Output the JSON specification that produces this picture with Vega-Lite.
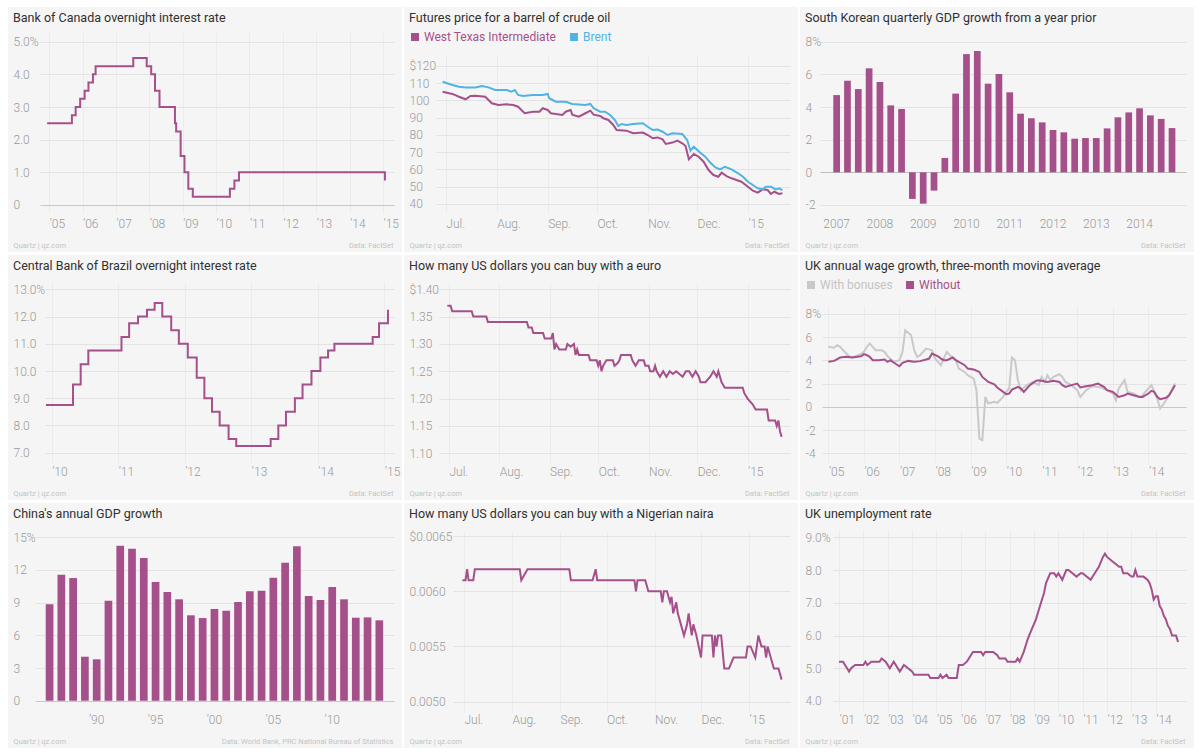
{
"$schema": "https://vega.github.io/schema/vega-lite/v6.json",
"padding": {"left": 8, "top": 7, "right": 0, "bottom": 0},
"background": "white",
"spacing": 3,
"resolve": {"scale": {"color": "independent"}, "legend": {"color": "independent"}},
"config": {
  "view": {"fill": "#f5f5f5", "stroke": null},
  "font": "Roboto",
  "title": {"anchor": "start", "frame": "group", "font": "Roboto", "fontSize": 12.5, "fontWeight": 400, "color": "#303030", "offset": 0, "dx": 5, "dy": 21, "baseline": "alphabetic"},
  "axis": {"domain": false, "grid": false, "ticks": false, "labelFont": "Roboto", "labelFontSize": 12, "labelFontWeight": 300, "labelColor": "#999999", "labelPadding": 0, "labelFlush": false, "labelOverlap": false, "titleFont": "Roboto", "titleFontSize": 7.5, "titleFontWeight": 400, "titleColor": "#c4c4c4", "zindex": 0, "tickWidth": 1, "minExtent": 0, "maxExtent": 0},
  "line": {"strokeWidth": 2}
},
"vconcat": [
{"hconcat": [
{
 "width": 394, "height": 245,
 "title": {"text": "Bank of Canada overnight interest rate"},
 "data": {"values": [
  {"d":"2004-12-10","v":2.5},{"d":"2005-09-07","v":2.75},{"d":"2005-10-18","v":3.0},{"d":"2005-12-06","v":3.25},
  {"d":"2006-01-24","v":3.5},{"d":"2006-03-07","v":3.75},{"d":"2006-04-25","v":4.0},{"d":"2006-05-24","v":4.25},
  {"d":"2007-07-10","v":4.5},{"d":"2007-12-04","v":4.25},{"d":"2008-01-22","v":4.0},{"d":"2008-03-04","v":3.5},
  {"d":"2008-04-22","v":3.0},{"d":"2008-10-08","v":2.5},{"d":"2008-10-21","v":2.25},{"d":"2008-12-09","v":1.5},
  {"d":"2009-01-20","v":1.0},{"d":"2009-03-03","v":0.5},{"d":"2009-04-21","v":0.25},{"d":"2010-06-01","v":0.5},
  {"d":"2010-07-20","v":0.75},{"d":"2010-09-08","v":1.0},{"d":"2015-01-21","v":0.75}
 ]},
 "layer": [
  {"mark": {"type": "line", "opacity": 0},
   "encoding": {
    "x": {"field": "d", "type": "temporal", "scale": {"type": "utc", "nice": false, "domain": [{"year":2003,"month":10,"date":9,"utc":true},{"year":2015,"month":7,"date":27,"utc":true}]},
          "axis": {"orient": "top", "offset": -25, "ticks": true, "tickSize": -181, "tickColor": "#ebebeb", "labels": false, "title": null,
                   "values": [{"year":2005,"utc":true},{"year":2006,"utc":true},{"year":2007,"utc":true},{"year":2008,"utc":true},{"year":2009,"utc":true},{"year":2010,"utc":true},{"year":2011,"utc":true},{"year":2012,"utc":true},{"year":2013,"utc":true},{"year":2014,"utc":true},{"year":2015,"utc":true}]}},
    "y": {"field": "v", "type": "quantitative", "scale": {"domain": [-1.439, 6.062], "nice": false, "zero": false},
          "axis": {"orient": "right", "offset": -8, "ticks": true, "tickSize": -354, "tickColor": {"condition": {"test": "datum.value == 0", "value": "#c8c8c8"}, "value": "#e3e3e3"}, "labels": false, "title": null, "values": [0,1,2,3,4,5]}}
   }},
  {"mark": {"type": "line", "interpolate": "step-after", "color": "#a5508a"},
   "encoding": {
    "x": {"field": "d", "type": "temporal",
          "axis": {"orient": "bottom", "offset": -34, "labelAlign": "left", "labelExpr": "'’' + utcFormat(datum.value, '%y')",
                   "values": [{"year":2005,"utc":true},{"year":2006,"utc":true},{"year":2007,"utc":true},{"year":2008,"utc":true},{"year":2009,"utc":true},{"year":2010,"utc":true},{"year":2011,"utc":true},{"year":2012,"utc":true},{"year":2013,"utc":true},{"year":2014,"utc":true},{"year":2015,"utc":true}],
                   "title": "Quartz | qz.com", "titleX": 5, "titleY": 29, "titleAlign": "left", "titleBaseline": "alphabetic"}},
    "y": {"field": "v", "type": "quantitative",
          "axis": {"orient": "left", "offset": -5, "values": [0,1,2,3,4,5], "labelAlign": "left", "labelExpr": "datum.value == 5 ? '5.0%' : datum.value == 0 ? '0' : format(datum.value, '.1f')",
                   "title": "Data: FactSet", "titleAngle": 0, "titleX": 380, "titleY": 240, "titleAlign": "right", "titleBaseline": "alphabetic"}}
   }}
 ],
 "resolve": {"axis": {"x": "independent", "y": "independent"}}
},
{
 "width": 394, "height": 245,
 "title": {"text": "Futures price for a barrel of crude oil"},
 "data": {"values": [
  {"d":"2014-06-29","s":"West Texas Intermediate","v":105.1},{"d":"2014-07-03","s":"West Texas Intermediate","v":104.2},{"d":"2014-07-05","s":"West Texas Intermediate","v":103.8},{"d":"2014-07-09","s":"West Texas Intermediate","v":102.2},
  {"d":"2014-07-13","s":"West Texas Intermediate","v":100.7},{"d":"2014-07-16","s":"West Texas Intermediate","v":102.6},{"d":"2014-07-19","s":"West Texas Intermediate","v":102.8},{"d":"2014-07-25","s":"West Texas Intermediate","v":102.2},
  {"d":"2014-07-29","s":"West Texas Intermediate","v":98.4},{"d":"2014-08-02","s":"West Texas Intermediate","v":97.4},{"d":"2014-08-07","s":"West Texas Intermediate","v":97.8},{"d":"2014-08-11","s":"West Texas Intermediate","v":97.4},
  {"d":"2014-08-14","s":"West Texas Intermediate","v":96.4},{"d":"2014-08-18","s":"West Texas Intermediate","v":92.6},{"d":"2014-08-23","s":"West Texas Intermediate","v":93.5},{"d":"2014-08-27","s":"West Texas Intermediate","v":93.5},
  {"d":"2014-08-29","s":"West Texas Intermediate","v":95.5},{"d":"2014-09-01","s":"West Texas Intermediate","v":94.5},{"d":"2014-09-03","s":"West Texas Intermediate","v":92.6},{"d":"2014-09-06","s":"West Texas Intermediate","v":92.2},
  {"d":"2014-09-10","s":"West Texas Intermediate","v":91.6},{"d":"2014-09-12","s":"West Texas Intermediate","v":93.5},{"d":"2014-09-15","s":"West Texas Intermediate","v":94.5},{"d":"2014-09-16","s":"West Texas Intermediate","v":91.8},
  {"d":"2014-09-20","s":"West Texas Intermediate","v":90.6},{"d":"2014-09-24","s":"West Texas Intermediate","v":92.6},{"d":"2014-09-27","s":"West Texas Intermediate","v":94.1},{"d":"2014-09-29","s":"West Texas Intermediate","v":91.8},
  {"d":"2014-10-03","s":"West Texas Intermediate","v":91.0},{"d":"2014-10-05","s":"West Texas Intermediate","v":89.7},{"d":"2014-10-08","s":"West Texas Intermediate","v":88.7},{"d":"2014-10-11","s":"West Texas Intermediate","v":85.8},
  {"d":"2014-10-13","s":"West Texas Intermediate","v":82.9},{"d":"2014-10-19","s":"West Texas Intermediate","v":82.5},{"d":"2014-10-23","s":"West Texas Intermediate","v":81.0},{"d":"2014-10-29","s":"West Texas Intermediate","v":81.4},
  {"d":"2014-11-01","s":"West Texas Intermediate","v":80.0},{"d":"2014-11-04","s":"West Texas Intermediate","v":78.1},{"d":"2014-11-07","s":"West Texas Intermediate","v":78.6},{"d":"2014-11-10","s":"West Texas Intermediate","v":77.5},
  {"d":"2014-11-12","s":"West Texas Intermediate","v":74.8},{"d":"2014-11-16","s":"West Texas Intermediate","v":75.6},{"d":"2014-11-19","s":"West Texas Intermediate","v":76.7},{"d":"2014-11-22","s":"West Texas Intermediate","v":75.2},
  {"d":"2014-11-24","s":"West Texas Intermediate","v":73.6},{"d":"2014-11-26","s":"West Texas Intermediate","v":65.9},{"d":"2014-11-29","s":"West Texas Intermediate","v":69.0},{"d":"2014-12-02","s":"West Texas Intermediate","v":67.4},
  {"d":"2014-12-05","s":"West Texas Intermediate","v":64.5},{"d":"2014-12-08","s":"West Texas Intermediate","v":59.7},{"d":"2014-12-11","s":"West Texas Intermediate","v":56.8},{"d":"2014-12-14","s":"West Texas Intermediate","v":55.8},
  {"d":"2014-12-16","s":"West Texas Intermediate","v":58.2},{"d":"2014-12-19","s":"West Texas Intermediate","v":56.2},{"d":"2014-12-22","s":"West Texas Intermediate","v":54.9},{"d":"2014-12-25","s":"West Texas Intermediate","v":53.9},
  {"d":"2014-12-28","s":"West Texas Intermediate","v":52.9},{"d":"2015-01-01","s":"West Texas Intermediate","v":50.0},{"d":"2015-01-04","s":"West Texas Intermediate","v":47.7},{"d":"2015-01-07","s":"West Texas Intermediate","v":46.6},
  {"d":"2015-01-10","s":"West Texas Intermediate","v":48.5},{"d":"2015-01-13","s":"West Texas Intermediate","v":48.1},{"d":"2015-01-15","s":"West Texas Intermediate","v":45.8},{"d":"2015-01-17","s":"West Texas Intermediate","v":47.1},
  {"d":"2015-01-20","s":"West Texas Intermediate","v":45.8},{"d":"2015-01-22","s":"West Texas Intermediate","v":46.2},
  {"d":"2014-06-29","s":"Brent","v":110.9},{"d":"2014-07-05","s":"Brent","v":109.0},{"d":"2014-07-09","s":"Brent","v":108.0},{"d":"2014-07-13","s":"Brent","v":107.6},
  {"d":"2014-07-19","s":"Brent","v":107.6},{"d":"2014-07-23","s":"Brent","v":108.4},{"d":"2014-07-27","s":"Brent","v":107.6},{"d":"2014-07-31","s":"Brent","v":106.1},
  {"d":"2014-08-07","s":"Brent","v":106.1},{"d":"2014-08-10","s":"Brent","v":105.1},{"d":"2014-08-12","s":"Brent","v":106.1},{"d":"2014-08-14","s":"Brent","v":103.2},
  {"d":"2014-08-17","s":"Brent","v":102.6},{"d":"2014-08-23","s":"Brent","v":103.2},{"d":"2014-08-29","s":"Brent","v":103.2},{"d":"2014-09-01","s":"Brent","v":103.8},
  {"d":"2014-09-02","s":"Brent","v":101.3},{"d":"2014-09-06","s":"Brent","v":99.3},{"d":"2014-09-12","s":"Brent","v":99.3},{"d":"2014-09-16","s":"Brent","v":98.0},
  {"d":"2014-09-24","s":"Brent","v":97.4},{"d":"2014-09-27","s":"Brent","v":98.0},{"d":"2014-09-29","s":"Brent","v":95.5},{"d":"2014-10-03","s":"Brent","v":93.5},
  {"d":"2014-10-06","s":"Brent","v":93.5},{"d":"2014-10-09","s":"Brent","v":91.6},{"d":"2014-10-12","s":"Brent","v":88.7},{"d":"2014-10-14","s":"Brent","v":85.2},
  {"d":"2014-10-16","s":"Brent","v":86.4},{"d":"2014-10-19","s":"Brent","v":85.8},{"d":"2014-10-23","s":"Brent","v":86.4},{"d":"2014-10-29","s":"Brent","v":86.8},
  {"d":"2014-11-01","s":"Brent","v":84.8},{"d":"2014-11-04","s":"Brent","v":82.9},{"d":"2014-11-07","s":"Brent","v":83.2},{"d":"2014-11-10","s":"Brent","v":81.9},
  {"d":"2014-11-13","s":"Brent","v":80.0},{"d":"2014-11-16","s":"Brent","v":81.0},{"d":"2014-11-22","s":"Brent","v":80.6},{"d":"2014-11-25","s":"Brent","v":77.1},
  {"d":"2014-11-27","s":"Brent","v":70.9},{"d":"2014-11-29","s":"Brent","v":73.2},{"d":"2014-12-03","s":"Brent","v":69.7},{"d":"2014-12-06","s":"Brent","v":67.4},
  {"d":"2014-12-09","s":"Brent","v":64.0},{"d":"2014-12-12","s":"Brent","v":61.3},{"d":"2014-12-15","s":"Brent","v":60.1},{"d":"2014-12-18","s":"Brent","v":61.6},
  {"d":"2014-12-22","s":"Brent","v":60.1},{"d":"2014-12-26","s":"Brent","v":57.8},{"d":"2014-12-29","s":"Brent","v":55.8},{"d":"2015-01-01","s":"Brent","v":52.9},
  {"d":"2015-01-04","s":"Brent","v":51.0},{"d":"2015-01-07","s":"Brent","v":49.1},{"d":"2015-01-10","s":"Brent","v":48.5},{"d":"2015-01-12","s":"Brent","v":50.0},
  {"d":"2015-01-15","s":"Brent","v":50.0},{"d":"2015-01-18","s":"Brent","v":48.5},{"d":"2015-01-20","s":"Brent","v":49.1},{"d":"2015-01-22","s":"Brent","v":48.1}
 ]},
 "layer": [
  {"mark": {"type": "line", "opacity": 0},
   "encoding": {
    "x": {"field": "d", "type": "temporal", "scale": {"type": "utc", "nice": false, "domain": [{"year":2014,"month":6,"date":5,"hours":12,"utc":true},{"year":2015,"month":1,"date":31,"hours":12,"utc":true}]},
          "axis": {"orient": "top", "offset": -48, "ticks": true, "tickSize": -158, "tickColor": "#ebebeb", "labels": false, "title": null,
                   "values": [{"year":2014,"month":7,"date":1,"utc":true},{"year":2014,"month":8,"date":1,"utc":true},{"year":2014,"month":9,"date":1,"utc":true},{"year":2014,"month":10,"date":1,"utc":true},{"year":2014,"month":11,"date":1,"utc":true},{"year":2014,"month":12,"date":1,"utc":true},{"year":2015,"month":1,"date":1,"utc":true}]}},
    "y": {"field": "v", "type": "quantitative", "scale": {"domain": [12.17, 154.2], "nice": false, "zero": false},
          "axis": {"orient": "right", "offset": -8, "ticks": true, "tickSize": -354, "tickColor": "#e3e3e3", "labels": false, "title": null, "values": [40,50,60,70,80,90,100,110,120]}}
   }},
  {"mark": {"type": "line"},
   "encoding": {
    "x": {"field": "d", "type": "temporal",
          "axis": {"orient": "bottom", "offset": -34, "labelAlign": "left", "labelExpr": "utcFormat(datum.value, '%m') == '01' ? '’' + utcFormat(datum.value, '%y') : utcFormat(datum.value, '%b') + '.'",
                   "values": [{"year":2014,"month":7,"date":1,"utc":true},{"year":2014,"month":8,"date":1,"utc":true},{"year":2014,"month":9,"date":1,"utc":true},{"year":2014,"month":10,"date":1,"utc":true},{"year":2014,"month":11,"date":1,"utc":true},{"year":2014,"month":12,"date":1,"utc":true},{"year":2015,"month":1,"date":1,"utc":true}],
                   "title": "Quartz | qz.com", "titleX": 5, "titleY": 29, "titleAlign": "left", "titleBaseline": "alphabetic"}},
    "y": {"field": "v", "type": "quantitative",
          "axis": {"orient": "left", "offset": -5, "values": [40,50,60,70,80,90,100,110,120], "labelAlign": "left", "labelExpr": "datum.value == 120 ? '$120' : '' + datum.value",
                   "title": "Data: FactSet", "titleAngle": 0, "titleX": 380, "titleY": 240, "titleAlign": "right", "titleBaseline": "alphabetic"}},
    "color": {"field": "s", "type": "nominal", "scale": {"domain": ["West Texas Intermediate","Brent"], "range": ["#a5508a","#4fb4e5"]},
              "legend": {"orient": "none", "legendX": 5, "legendY": 24, "direction": "horizontal", "title": null, "padding": 0, "symbolType": "square", "symbolSize": 36, "labelFont": "Roboto", "labelFontSize": 12, "labelFontWeight": 400, "labelOffset": 3, "columnPadding": 10,
                         "symbolFillColor": {"expr": "datum.value === 'Brent' ? '#4fb4e5' : '#a5508a'"},
                         "labelColor": {"expr": "datum.value === 'Brent' ? '#4fb4e5' : '#a5508a'"}}}
   }}
 ],
 "resolve": {"axis": {"x": "independent", "y": "independent"}}
},
{
 "width": 394, "height": 245,
 "title": {"text": "South Korean quarterly GDP growth from a year prior"},
 "data": {"values": [
  {"q":"2007Q1","v":4.73},{"q":"2007Q2","v":5.61},{"q":"2007Q3","v":5.10},{"q":"2007Q4","v":6.37},
  {"q":"2008Q1","v":5.53},{"q":"2008Q2","v":4.10},{"q":"2008Q3","v":3.88},{"q":"2008Q4","v":-1.63},
  {"q":"2009Q1","v":-1.92},{"q":"2009Q2","v":-1.12},{"q":"2009Q3","v":0.88},{"q":"2009Q4","v":4.82},
  {"q":"2010Q1","v":7.24},{"q":"2010Q2","v":7.43},{"q":"2010Q3","v":5.43},{"q":"2010Q4","v":6.02},
  {"q":"2011Q1","v":4.90},{"q":"2011Q2","v":3.59},{"q":"2011Q3","v":3.31},{"q":"2011Q4","v":3.06},
  {"q":"2012Q1","v":2.59},{"q":"2012Q2","v":2.45},{"q":"2012Q3","v":2.06},{"q":"2012Q4","v":2.10},
  {"q":"2013Q1","v":2.10},{"q":"2013Q2","v":2.69},{"q":"2013Q3","v":3.37},{"q":"2013Q4","v":3.67},
  {"q":"2014Q1","v":3.92},{"q":"2014Q2","v":3.49},{"q":"2014Q3","v":3.27},{"q":"2014Q4","v":2.71}
 ]},
 "layer": [
  {"mark": {"type": "bar", "opacity": 0},
   "encoding": {
    "x": {"field": "q", "type": "ordinal", "scale": {"type": "band", "paddingInner": 0.38, "paddingOuter": 0.4, "align": 0.097,
          "domain": ["2006Q2","2006Q3","2006Q4","2007Q1","2007Q2","2007Q3","2007Q4","2008Q1","2008Q2","2008Q3","2008Q4","2009Q1","2009Q2","2009Q3","2009Q4","2010Q1","2010Q2","2010Q3","2010Q4","2011Q1","2011Q2","2011Q3","2011Q4","2012Q1","2012Q2","2012Q3","2012Q4","2013Q1","2013Q2","2013Q3","2013Q4","2014Q1","2014Q2","2014Q3","2014Q4","2015Q1"]}, "axis": null},
    "y": {"field": "v", "type": "quantitative", "scale": {"domain": [-4.88, 10.125], "nice": false, "zero": false},
          "axis": {"orient": "right", "offset": -8, "ticks": true, "tickSize": -366, "tickColor": {"condition": {"test": "datum.value == 0", "value": "#bdbdbd"}, "value": "#e3e3e3"}, "labels": false, "title": null, "values": [-2,0,2,4,6,8]}}
   }},
  {"mark": {"type": "bar", "color": "#a5508a"},
   "encoding": {
    "x": {"field": "q", "type": "ordinal",
          "axis": {"orient": "bottom", "offset": -34, "labelAlign": "center", "labelAngle": 0, "values": ["2007Q1","2008Q1","2009Q1","2010Q1","2011Q1","2012Q1","2013Q1","2014Q1"], "labelExpr": "slice(datum.value, 0, 4)",
                   "title": "Quartz | qz.com", "titleX": 5, "titleY": 29, "titleAlign": "left", "titleBaseline": "alphabetic"}},
    "y": {"field": "v", "type": "quantitative",
          "axis": {"orient": "left", "offset": -5, "values": [-2,0,2,4,6,8], "labelAlign": "left", "labelExpr": "datum.value == 8 ? '8%' : '' + datum.value",
                   "title": "Data: FactSet", "titleAngle": 0, "titleX": 380, "titleY": 240, "titleAlign": "right", "titleBaseline": "alphabetic"}}
   }}
 ],
 "resolve": {"axis": {"x": "independent", "y": "independent"}}
}
], "spacing": 2, "resolve": {"scale": {"color": "independent"}, "legend": {"color": "independent"}}},
{"hconcat": [
{
 "width": 394, "height": 245,
 "title": {"text": "Central Bank of Brazil overnight interest rate"},
 "data": {"values": [
  {"d":"2009-11-30","v":8.75},{"d":"2010-04-28","v":9.5},{"d":"2010-06-09","v":10.25},{"d":"2010-07-21","v":10.75},
  {"d":"2011-01-19","v":11.25},{"d":"2011-03-02","v":11.75},{"d":"2011-04-20","v":12.0},{"d":"2011-06-08","v":12.25},
  {"d":"2011-07-20","v":12.5},{"d":"2011-08-31","v":12.0},{"d":"2011-10-19","v":11.5},{"d":"2011-11-30","v":11.0},
  {"d":"2012-01-18","v":10.5},{"d":"2012-03-07","v":9.75},{"d":"2012-04-18","v":9.0},{"d":"2012-05-30","v":8.5},
  {"d":"2012-07-11","v":8.0},{"d":"2012-08-29","v":7.5},{"d":"2012-10-10","v":7.25},{"d":"2013-04-17","v":7.5},
  {"d":"2013-05-29","v":8.0},{"d":"2013-07-10","v":8.5},{"d":"2013-08-28","v":9.0},{"d":"2013-10-09","v":9.5},
  {"d":"2013-11-27","v":10.0},{"d":"2014-01-15","v":10.5},{"d":"2014-02-26","v":10.75},{"d":"2014-04-02","v":11.0},
  {"d":"2014-10-29","v":11.25},{"d":"2014-12-03","v":11.75},{"d":"2015-01-21","v":12.25}
 ]},
 "layer": [
  {"mark": {"type": "line", "opacity": 0},
   "encoding": {
    "x": {"field": "d", "type": "temporal", "scale": {"type": "utc", "nice": false, "domain": [{"year":2009,"month":5,"date":6,"utc":true},{"year":2015,"month":4,"date":8,"utc":true}]},
          "axis": {"orient": "top", "offset": -27, "ticks": true, "tickSize": -181, "tickColor": "#ebebeb", "labels": false, "title": null,
                   "values": [{"year":2010,"utc":true},{"year":2011,"utc":true},{"year":2012,"utc":true},{"year":2013,"utc":true},{"year":2014,"utc":true},{"year":2015,"utc":true}]}},
    "y": {"field": "v", "type": "quantitative", "scale": {"domain": [5.263, 14.26], "nice": false, "zero": false},
          "axis": {"orient": "right", "offset": -8, "ticks": true, "tickSize": -349, "tickColor": "#e3e3e3", "labels": false, "title": null, "values": [7,8,9,10,11,12,13]}}
   }},
  {"mark": {"type": "line", "interpolate": "step-after", "color": "#a5508a"},
   "encoding": {
    "x": {"field": "d", "type": "temporal",
          "axis": {"orient": "bottom", "offset": -34, "labelAlign": "left", "labelExpr": "'’' + utcFormat(datum.value, '%y')",
                   "values": [{"year":2010,"utc":true},{"year":2011,"utc":true},{"year":2012,"utc":true},{"year":2013,"utc":true},{"year":2014,"utc":true},{"year":2015,"utc":true}],
                   "title": "Quartz | qz.com", "titleX": 5, "titleY": 29, "titleAlign": "left", "titleBaseline": "alphabetic"}},
    "y": {"field": "v", "type": "quantitative",
          "axis": {"orient": "left", "offset": -5, "values": [7,8,9,10,11,12,13], "labelAlign": "left", "labelExpr": "datum.value == 13 ? '13.0%' : format(datum.value, '.1f')",
                   "title": "Data: FactSet", "titleAngle": 0, "titleX": 380, "titleY": 240, "titleAlign": "right", "titleBaseline": "alphabetic"}}
   }}
 ],
 "resolve": {"axis": {"x": "independent", "y": "independent"}}
},
{
 "width": 394, "height": 245,
 "title": {"text": "How many US dollars you can buy with a euro"},
 "data": {"values": [
  {"d":"2014-06-30","v":1.37},{"d":"2014-07-02","v":1.37},{"d":"2014-07-03","v":1.36},{"d":"2014-07-15","v":1.36},{"d":"2014-07-16","v":1.35},
  {"d":"2014-07-24","v":1.35},{"d":"2014-07-25","v":1.34},{"d":"2014-08-18","v":1.34},{"d":"2014-08-19","v":1.33},{"d":"2014-08-21","v":1.33},
  {"d":"2014-08-22","v":1.32},{"d":"2014-08-28","v":1.32},{"d":"2014-08-29","v":1.31},{"d":"2014-09-02","v":1.31},{"d":"2014-09-03","v":1.32},
  {"d":"2014-09-04","v":1.29},{"d":"2014-09-05","v":1.30},{"d":"2014-09-07","v":1.29},{"d":"2014-09-11","v":1.29},{"d":"2014-09-12","v":1.30},
  {"d":"2014-09-14","v":1.295},{"d":"2014-09-16","v":1.30},{"d":"2014-09-17","v":1.28},{"d":"2014-09-18","v":1.29},{"d":"2014-09-19","v":1.28},
  {"d":"2014-09-25","v":1.28},{"d":"2014-09-26","v":1.27},{"d":"2014-09-30","v":1.27},{"d":"2014-10-01","v":1.26},{"d":"2014-10-02","v":1.27},
  {"d":"2014-10-03","v":1.25},{"d":"2014-10-04","v":1.26},{"d":"2014-10-06","v":1.27},{"d":"2014-10-10","v":1.27},{"d":"2014-10-11","v":1.26},
  {"d":"2014-10-13","v":1.265},{"d":"2014-10-14","v":1.27},{"d":"2014-10-15","v":1.28},{"d":"2014-10-21","v":1.28},{"d":"2014-10-22","v":1.27},
  {"d":"2014-10-24","v":1.26},{"d":"2014-10-26","v":1.27},{"d":"2014-10-29","v":1.27},{"d":"2014-10-30","v":1.26},{"d":"2014-11-01","v":1.26},
  {"d":"2014-11-02","v":1.25},{"d":"2014-11-04","v":1.25},{"d":"2014-11-05","v":1.26},{"d":"2014-11-06","v":1.25},{"d":"2014-11-08","v":1.24},
  {"d":"2014-11-10","v":1.25},{"d":"2014-11-12","v":1.24},{"d":"2014-11-14","v":1.25},{"d":"2014-11-16","v":1.245},{"d":"2014-11-18","v":1.25},
  {"d":"2014-11-22","v":1.24},{"d":"2014-11-24","v":1.25},{"d":"2014-11-26","v":1.25},{"d":"2014-11-28","v":1.24},{"d":"2014-11-30","v":1.25},
  {"d":"2014-12-02","v":1.24},{"d":"2014-12-03","v":1.23},{"d":"2014-12-06","v":1.23},{"d":"2014-12-09","v":1.24},{"d":"2014-12-11","v":1.25},
  {"d":"2014-12-13","v":1.24},{"d":"2014-12-14","v":1.25},{"d":"2014-12-16","v":1.23},{"d":"2014-12-18","v":1.22},{"d":"2014-12-29","v":1.22},
  {"d":"2014-12-30","v":1.21},{"d":"2015-01-01","v":1.20},{"d":"2015-01-04","v":1.19},{"d":"2015-01-06","v":1.18},{"d":"2015-01-13","v":1.18},
  {"d":"2015-01-14","v":1.16},{"d":"2015-01-18","v":1.16},{"d":"2015-01-19","v":1.15},{"d":"2015-01-20","v":1.16},{"d":"2015-01-21","v":1.14},
  {"d":"2015-01-22","v":1.13}
 ]},
 "layer": [
  {"mark": {"type": "line", "opacity": 0},
   "encoding": {
    "x": {"field": "d", "type": "temporal", "scale": {"type": "utc", "nice": false, "domain": [{"year":2014,"month":6,"date":3,"hours":7,"utc":true},{"year":2015,"month":2,"date":1,"hours":2,"utc":true}]},
          "axis": {"orient": "top", "offset": -28, "ticks": true, "tickSize": -180, "tickColor": "#ebebeb", "labels": false, "title": null,
                   "values": [{"year":2014,"month":7,"date":1,"utc":true},{"year":2014,"month":8,"date":1,"utc":true},{"year":2014,"month":9,"date":1,"utc":true},{"year":2014,"month":10,"date":1,"utc":true},{"year":2014,"month":11,"date":1,"utc":true},{"year":2014,"month":12,"date":1,"utc":true},{"year":2015,"month":1,"date":1,"utc":true}]}},
    "y": {"field": "v", "type": "quantitative", "scale": {"domain": [1.0146, 1.4627], "nice": false, "zero": false},
          "axis": {"orient": "right", "offset": -8, "ticks": true, "tickSize": -351, "tickColor": "#e3e3e3", "labels": false, "title": null, "values": [1.1,1.15,1.2,1.25,1.3,1.35,1.4]}}
   }},
  {"mark": {"type": "line", "color": "#a5508a"},
   "encoding": {
    "x": {"field": "d", "type": "temporal",
          "axis": {"orient": "bottom", "offset": -34, "labelAlign": "left", "labelExpr": "utcFormat(datum.value, '%m') == '01' ? '’' + utcFormat(datum.value, '%y') : utcFormat(datum.value, '%b') + '.'",
                   "values": [{"year":2014,"month":7,"date":1,"utc":true},{"year":2014,"month":8,"date":1,"utc":true},{"year":2014,"month":9,"date":1,"utc":true},{"year":2014,"month":10,"date":1,"utc":true},{"year":2014,"month":11,"date":1,"utc":true},{"year":2014,"month":12,"date":1,"utc":true},{"year":2015,"month":1,"date":1,"utc":true}],
                   "title": "Quartz | qz.com", "titleX": 5, "titleY": 29, "titleAlign": "left", "titleBaseline": "alphabetic"}},
    "y": {"field": "v", "type": "quantitative",
          "axis": {"orient": "left", "offset": -5, "values": [1.1,1.15,1.2,1.25,1.3,1.35,1.4], "labelAlign": "left", "labelExpr": "datum.value > 1.39 ? '$1.40' : format(datum.value, '.2f')",
                   "title": "Data: FactSet", "titleAngle": 0, "titleX": 380, "titleY": 240, "titleAlign": "right", "titleBaseline": "alphabetic"}}
   }}
 ],
 "resolve": {"axis": {"x": "independent", "y": "independent"}}
},
{
 "width": 394, "height": 245,
 "title": {"text": "UK annual wage growth, three-month moving average"},
 "data": {"values": [
  {"d":"2005-01-01","s":"With bonuses","v":5.17},{"d":"2005-03-01","s":"With bonuses","v":5.10},{"d":"2005-04-01","s":"With bonuses","v":5.31},{"d":"2005-05-01","s":"With bonuses","v":5.17},
  {"d":"2005-06-01","s":"With bonuses","v":4.88},{"d":"2005-08-01","s":"With bonuses","v":4.36},{"d":"2005-09-01","s":"With bonuses","v":4.25},{"d":"2005-12-01","s":"With bonuses","v":4.54},
  {"d":"2006-01-01","s":"With bonuses","v":4.74},{"d":"2006-02-01","s":"With bonuses","v":5.17},{"d":"2006-03-01","s":"With bonuses","v":5.46},{"d":"2006-04-01","s":"With bonuses","v":5.17},
  {"d":"2006-05-01","s":"With bonuses","v":4.88},{"d":"2006-07-01","s":"With bonuses","v":4.88},{"d":"2006-08-01","s":"With bonuses","v":4.74},{"d":"2006-09-01","s":"With bonuses","v":4.36},
  {"d":"2006-11-01","s":"With bonuses","v":3.88},{"d":"2007-01-01","s":"With bonuses","v":4.02},{"d":"2007-02-01","s":"With bonuses","v":4.74},{"d":"2007-03-01","s":"With bonuses","v":6.60},
  {"d":"2007-05-01","s":"With bonuses","v":6.17},{"d":"2007-06-01","s":"With bonuses","v":4.88},{"d":"2007-07-01","s":"With bonuses","v":4.31},{"d":"2007-08-01","s":"With bonuses","v":4.45},
  {"d":"2007-10-01","s":"With bonuses","v":5.02},{"d":"2007-12-01","s":"With bonuses","v":4.88},{"d":"2008-01-01","s":"With bonuses","v":4.16},{"d":"2008-02-01","s":"With bonuses","v":3.88},
  {"d":"2008-03-01","s":"With bonuses","v":3.59},{"d":"2008-05-01","s":"With bonuses","v":4.74},{"d":"2008-06-01","s":"With bonuses","v":4.45},{"d":"2008-08-01","s":"With bonuses","v":4.02},
  {"d":"2008-09-01","s":"With bonuses","v":3.30},{"d":"2008-11-01","s":"With bonuses","v":3.01},{"d":"2008-12-01","s":"With bonuses","v":2.73},{"d":"2009-02-01","s":"With bonuses","v":2.44},
  {"d":"2009-03-01","s":"With bonuses","v":1.44},{"d":"2009-04-01","s":"With bonuses","v":-2.73},{"d":"2009-05-01","s":"With bonuses","v":-2.87},{"d":"2009-06-01","s":"With bonuses","v":0.86},
  {"d":"2009-07-01","s":"With bonuses","v":0.29},{"d":"2009-09-01","s":"With bonuses","v":0.43},{"d":"2009-10-01","s":"With bonuses","v":0.34},{"d":"2009-12-01","s":"With bonuses","v":0.86},
  {"d":"2010-01-01","s":"With bonuses","v":1.29},{"d":"2010-02-01","s":"With bonuses","v":1.58},{"d":"2010-03-01","s":"With bonuses","v":4.25},{"d":"2010-04-01","s":"With bonuses","v":4.02},
  {"d":"2010-05-01","s":"With bonuses","v":2.30},{"d":"2010-06-01","s":"With bonuses","v":1.44},{"d":"2010-08-01","s":"With bonuses","v":1.87},{"d":"2010-10-01","s":"With bonuses","v":2.15},
  {"d":"2010-12-01","s":"With bonuses","v":1.87},{"d":"2011-01-01","s":"With bonuses","v":2.58},{"d":"2011-02-01","s":"With bonuses","v":2.15},{"d":"2011-03-01","s":"With bonuses","v":2.73},
  {"d":"2011-04-01","s":"With bonuses","v":2.30},{"d":"2011-05-01","s":"With bonuses","v":2.58},{"d":"2011-07-01","s":"With bonuses","v":2.81},{"d":"2011-08-01","s":"With bonuses","v":2.58},
  {"d":"2011-09-01","s":"With bonuses","v":2.15},{"d":"2011-11-01","s":"With bonuses","v":1.87},{"d":"2012-01-01","s":"With bonuses","v":1.44},{"d":"2012-02-01","s":"With bonuses","v":0.86},
  {"d":"2012-04-01","s":"With bonuses","v":1.44},{"d":"2012-06-01","s":"With bonuses","v":1.78},{"d":"2012-08-01","s":"With bonuses","v":1.72},{"d":"2012-09-01","s":"With bonuses","v":1.67},
  {"d":"2012-11-01","s":"With bonuses","v":1.44},{"d":"2013-01-01","s":"With bonuses","v":1.15},{"d":"2013-02-01","s":"With bonuses","v":0.57},{"d":"2013-03-01","s":"With bonuses","v":1.58},
  {"d":"2013-05-01","s":"With bonuses","v":2.30},{"d":"2013-06-01","s":"With bonuses","v":1.29},{"d":"2013-08-01","s":"With bonuses","v":1.15},{"d":"2013-10-01","s":"With bonuses","v":0.86},
  {"d":"2013-11-01","s":"With bonuses","v":1.00},{"d":"2014-01-01","s":"With bonuses","v":1.58},{"d":"2014-02-01","s":"With bonuses","v":1.87},{"d":"2014-04-01","s":"With bonuses","v":0.72},
  {"d":"2014-05-01","s":"With bonuses","v":-0.14},{"d":"2014-07-01","s":"With bonuses","v":0.57},{"d":"2014-08-01","s":"With bonuses","v":1.00},{"d":"2014-10-01","s":"With bonuses","v":2.01},
  {"d":"2005-01-01","s":"Without","v":3.88},{"d":"2005-03-01","s":"Without","v":3.96},{"d":"2005-05-01","s":"Without","v":4.25},{"d":"2005-07-01","s":"Without","v":4.31},
  {"d":"2005-09-01","s":"Without","v":4.25},{"d":"2005-12-01","s":"Without","v":4.36},{"d":"2006-01-01","s":"Without","v":4.54},{"d":"2006-02-01","s":"Without","v":4.45},
  {"d":"2006-03-01","s":"Without","v":4.31},{"d":"2006-04-01","s":"Without","v":4.02},{"d":"2006-06-01","s":"Without","v":4.02},{"d":"2006-08-01","s":"Without","v":4.08},
  {"d":"2006-09-01","s":"Without","v":3.88},{"d":"2006-10-01","s":"Without","v":4.02},{"d":"2006-11-01","s":"Without","v":3.82},{"d":"2007-01-01","s":"Without","v":3.50},
  {"d":"2007-02-01","s":"Without","v":3.79},{"d":"2007-04-01","s":"Without","v":3.96},{"d":"2007-06-01","s":"Without","v":3.88},{"d":"2007-08-01","s":"Without","v":3.94},
  {"d":"2007-10-01","s":"Without","v":4.08},{"d":"2007-11-01","s":"Without","v":4.16},{"d":"2007-12-01","s":"Without","v":4.59},{"d":"2008-02-01","s":"Without","v":4.36},
  {"d":"2008-03-01","s":"Without","v":4.16},{"d":"2008-04-01","s":"Without","v":4.02},{"d":"2008-05-01","s":"Without","v":4.02},{"d":"2008-07-01","s":"Without","v":4.25},
  {"d":"2008-08-01","s":"Without","v":4.02},{"d":"2008-11-01","s":"Without","v":3.59},{"d":"2008-12-01","s":"Without","v":3.30},{"d":"2009-02-01","s":"Without","v":3.22},
  {"d":"2009-04-01","s":"Without","v":3.01},{"d":"2009-05-01","s":"Without","v":2.58},{"d":"2009-07-01","s":"Without","v":2.15},{"d":"2009-09-01","s":"Without","v":1.95},
  {"d":"2009-10-01","s":"Without","v":1.67},{"d":"2009-12-01","s":"Without","v":1.29},{"d":"2010-01-01","s":"Without","v":1.09},{"d":"2010-02-01","s":"Without","v":1.15},
  {"d":"2010-03-01","s":"Without","v":1.49},{"d":"2010-05-01","s":"Without","v":1.72},{"d":"2010-06-01","s":"Without","v":1.58},{"d":"2010-07-01","s":"Without","v":1.29},
  {"d":"2010-09-01","s":"Without","v":1.87},{"d":"2010-11-01","s":"Without","v":2.24},{"d":"2010-12-01","s":"Without","v":2.30},{"d":"2011-03-01","s":"Without","v":2.15},
  {"d":"2011-05-01","s":"Without","v":2.24},{"d":"2011-07-01","s":"Without","v":2.15},{"d":"2011-08-01","s":"Without","v":1.87},{"d":"2011-09-01","s":"Without","v":1.72},
  {"d":"2011-11-01","s":"Without","v":1.87},{"d":"2012-01-01","s":"Without","v":2.01},{"d":"2012-02-01","s":"Without","v":1.67},{"d":"2012-04-01","s":"Without","v":1.78},
  {"d":"2012-06-01","s":"Without","v":1.87},{"d":"2012-08-01","s":"Without","v":2.01},{"d":"2012-10-01","s":"Without","v":1.72},{"d":"2012-11-01","s":"Without","v":1.44},
  {"d":"2013-01-01","s":"Without","v":1.29},{"d":"2013-03-01","s":"Without","v":0.86},{"d":"2013-05-01","s":"Without","v":1.00},{"d":"2013-06-01","s":"Without","v":1.15},
  {"d":"2013-08-01","s":"Without","v":1.00},{"d":"2013-10-01","s":"Without","v":0.86},{"d":"2013-11-01","s":"Without","v":0.86},{"d":"2014-01-01","s":"Without","v":1.15},
  {"d":"2014-02-01","s":"Without","v":1.38},{"d":"2014-03-01","s":"Without","v":1.29},{"d":"2014-04-01","s":"Without","v":0.86},{"d":"2014-05-01","s":"Without","v":0.66},
  {"d":"2014-07-01","s":"Without","v":0.78},{"d":"2014-08-01","s":"Without","v":1.00},{"d":"2014-09-01","s":"Without","v":1.44},{"d":"2014-10-01","s":"Without","v":1.87}
 ]},
 "layer": [
  {"mark": {"type": "line", "opacity": 0},
   "encoding": {
    "x": {"field": "d", "type": "temporal", "scale": {"type": "utc", "nice": false, "domain": [{"year":2004,"month":3,"date":15,"utc":true},{"year":2015,"month":4,"date":14,"utc":true}]},
          "axis": {"orient": "top", "offset": -51, "ticks": true, "tickSize": -157, "tickColor": "#ebebeb", "labels": false, "title": null,
                   "values": [{"year":2005,"utc":true},{"year":2006,"utc":true},{"year":2007,"utc":true},{"year":2008,"utc":true},{"year":2009,"utc":true},{"year":2010,"utc":true},{"year":2011,"utc":true},{"year":2012,"utc":true},{"year":2013,"utc":true},{"year":2014,"utc":true}]}},
    "y": {"field": "v", "type": "quantitative", "scale": {"domain": [-8.02, 13.08], "nice": false, "zero": false},
          "axis": {"orient": "right", "offset": -8, "ticks": true, "tickSize": -364, "tickColor": {"condition": {"test": "datum.value == 0", "value": "#c8c8c8"}, "value": "#e3e3e3"}, "labels": false, "title": null, "values": [-4,-2,0,2,4,6,8]}}
   }},
  {"transform": [{"filter": "datum.s == 'With bonuses'"}],
   "mark": {"type": "line"},
   "encoding": {
    "x": {"field": "d", "type": "temporal", "axis": null},
    "y": {"field": "v", "type": "quantitative", "axis": null},
    "color": {"field": "s", "type": "nominal", "scale": {"domain": ["With bonuses","Without"], "range": ["#c9c9c9","#a5508a"]},
              "legend": {"orient": "none", "legendX": 5, "legendY": 24, "direction": "horizontal", "title": null, "padding": 0, "symbolType": "square", "symbolSize": 36, "labelFont": "Roboto", "labelFontSize": 12, "labelFontWeight": 400, "labelOffset": 3, "columnPadding": 10,
                         "symbolFillColor": {"expr": "datum.value === 'Without' ? '#a5508a' : '#c9c9c9'"},
                         "labelColor": {"expr": "datum.value === 'Without' ? '#a5508a' : '#c4c4c4'"}}}
   }},
  {"transform": [{"filter": "datum.s == 'Without'"}],
   "mark": {"type": "line"},
   "encoding": {
    "x": {"field": "d", "type": "temporal",
          "axis": {"orient": "bottom", "offset": -34, "labelAlign": "left", "labelExpr": "'’' + utcFormat(datum.value, '%y')",
                   "values": [{"year":2005,"utc":true},{"year":2006,"utc":true},{"year":2007,"utc":true},{"year":2008,"utc":true},{"year":2009,"utc":true},{"year":2010,"utc":true},{"year":2011,"utc":true},{"year":2012,"utc":true},{"year":2013,"utc":true},{"year":2014,"utc":true}],
                   "title": "Quartz | qz.com", "titleX": 5, "titleY": 29, "titleAlign": "left", "titleBaseline": "alphabetic"}},
    "y": {"field": "v", "type": "quantitative",
          "axis": {"orient": "left", "offset": -5, "values": [-4,-2,0,2,4,6,8], "labelAlign": "left", "labelExpr": "datum.value == 8 ? '8%' : '' + datum.value",
                   "title": "Data: FactSet", "titleAngle": 0, "titleX": 380, "titleY": 240, "titleAlign": "right", "titleBaseline": "alphabetic"}},
    "color": {"field": "s", "type": "nominal", "scale": {"domain": ["With bonuses","Without"], "range": ["#c9c9c9","#a5508a"]},
              "legend": {"orient": "none", "legendX": 5, "legendY": 24, "direction": "horizontal", "title": null, "padding": 0, "symbolType": "square", "symbolSize": 36, "labelFont": "Roboto", "labelFontSize": 12, "labelFontWeight": 400, "labelOffset": 3, "columnPadding": 10,
                         "symbolFillColor": {"expr": "datum.value === 'Without' ? '#a5508a' : '#c9c9c9'"},
                         "labelColor": {"expr": "datum.value === 'Without' ? '#a5508a' : '#c4c4c4'"}}}
   }}
 ],
 "resolve": {"axis": {"x": "independent", "y": "independent"}}
}
], "spacing": 2, "resolve": {"scale": {"color": "independent"}, "legend": {"color": "independent"}}},
{"hconcat": [
{
 "width": 394, "height": 245,
 "title": {"text": "China's annual GDP growth"},
 "data": {"values": [
  {"y":"1986","v":8.85},{"y":"1987","v":11.57},{"y":"1988","v":11.26},{"y":"1989","v":4.04},{"y":"1990","v":3.80},
  {"y":"1991","v":9.18},{"y":"1992","v":14.23},{"y":"1993","v":13.96},{"y":"1994","v":13.10},{"y":"1995","v":10.90},
  {"y":"1996","v":9.98},{"y":"1997","v":9.31},{"y":"1998","v":7.84},{"y":"1999","v":7.59},{"y":"2000","v":8.42},
  {"y":"2001","v":8.26},{"y":"2002","v":9.06},{"y":"2003","v":10.04},{"y":"2004","v":10.10},{"y":"2005","v":11.29},
  {"y":"2006","v":12.67},{"y":"2007","v":14.17},{"y":"2008","v":9.61},{"y":"2009","v":9.24},{"y":"2010","v":10.44},
  {"y":"2011","v":9.31},{"y":"2012","v":7.62},{"y":"2013","v":7.65},{"y":"2014","v":7.38}
 ]},
 "layer": [
  {"mark": {"type": "bar", "opacity": 0},
   "encoding": {
    "x": {"field": "y", "type": "ordinal", "scale": {"type": "band", "paddingInner": 0.346, "paddingOuter": 0.4, "align": 0.253,
          "domain": ["1983","1984","1985","1986","1987","1988","1989","1990","1991","1992","1993","1994","1995","1996","1997","1998","1999","2000","2001","2002","2003","2004","2005","2006","2007","2008","2009","2010","2011","2012","2013","2014","2015"]}, "axis": null},
    "y": {"field": "v", "type": "quantitative", "scale": {"domain": [-4.34, 18.15], "nice": false, "zero": false},
          "axis": {"orient": "right", "offset": -8, "ticks": true, "tickSize": -359, "tickColor": {"condition": {"test": "datum.value == 0", "value": "#c8c8c8"}, "value": "#e3e3e3"}, "labels": false, "title": null, "values": [0,3,6,9,12,15]}}
   }},
  {"mark": {"type": "bar", "color": "#a5508a"},
   "encoding": {
    "x": {"field": "y", "type": "ordinal",
          "axis": {"orient": "bottom", "offset": -34, "labelAlign": "center", "labelAngle": 0, "values": ["1990","1995","2000","2005","2010"], "labelExpr": "'’' + slice(datum.value, 2)",
                   "title": "Quartz | qz.com", "titleX": 5, "titleY": 29, "titleAlign": "left", "titleBaseline": "alphabetic"}},
    "y": {"field": "v", "type": "quantitative",
          "axis": {"orient": "left", "offset": -5, "values": [0,3,6,9,12,15], "labelAlign": "left", "labelExpr": "datum.value == 15 ? '15%' : '' + datum.value",
                   "title": "Data: World Bank, PRC National Bureau of Statistics", "titleAngle": 0, "titleX": 380, "titleY": 240, "titleAlign": "right", "titleBaseline": "alphabetic"}}
   }}
 ],
 "resolve": {"axis": {"x": "independent", "y": "independent"}}
},
{
 "width": 394, "height": 245,
 "title": {"text": "How many US dollars you can buy with a Nigerian naira"},
 "data": {"values": [
  {"d":"2014-06-30","v":0.0061},{"d":"2014-07-02","v":0.0061},{"d":"2014-07-03","v":0.0062},{"d":"2014-07-04","v":0.0061},{"d":"2014-07-07","v":0.0061},
  {"d":"2014-07-08","v":0.0062},{"d":"2014-08-06","v":0.0062},{"d":"2014-08-07","v":0.0061},{"d":"2014-08-11","v":0.0062},{"d":"2014-09-07","v":0.0062},
  {"d":"2014-09-08","v":0.0061},{"d":"2014-09-22","v":0.0061},{"d":"2014-09-24","v":0.0062},{"d":"2014-09-25","v":0.0061},{"d":"2014-10-19","v":0.0061},
  {"d":"2014-10-20","v":0.0060},{"d":"2014-10-21","v":0.0061},{"d":"2014-10-26","v":0.0061},{"d":"2014-10-28","v":0.0060},{"d":"2014-11-05","v":0.0060},
  {"d":"2014-11-06","v":0.0059},{"d":"2014-11-07","v":0.0060},{"d":"2014-11-09","v":0.0060},{"d":"2014-11-11","v":0.0059},{"d":"2014-11-12","v":0.00595},
  {"d":"2014-11-13","v":0.0058},{"d":"2014-11-15","v":0.0059},{"d":"2014-11-16","v":0.0058},{"d":"2014-11-18","v":0.0057},{"d":"2014-11-20","v":0.0056},
  {"d":"2014-11-22","v":0.0057},{"d":"2014-11-23","v":0.0058},{"d":"2014-11-25","v":0.0056},{"d":"2014-11-26","v":0.0057},{"d":"2014-11-28","v":0.0056},
  {"d":"2014-12-01","v":0.0054},{"d":"2014-12-02","v":0.0056},{"d":"2014-12-08","v":0.0056},{"d":"2014-12-09","v":0.0054},{"d":"2014-12-10","v":0.0056},
  {"d":"2014-12-11","v":0.0055},{"d":"2014-12-12","v":0.0056},{"d":"2014-12-14","v":0.0056},{"d":"2014-12-16","v":0.0053},{"d":"2014-12-19","v":0.0053},
  {"d":"2014-12-22","v":0.0054},{"d":"2014-12-30","v":0.0054},{"d":"2014-12-31","v":0.0055},{"d":"2015-01-02","v":0.0055},{"d":"2015-01-05","v":0.0054},
  {"d":"2015-01-07","v":0.0056},{"d":"2015-01-09","v":0.0055},{"d":"2015-01-11","v":0.0055},{"d":"2015-01-12","v":0.0054},{"d":"2015-01-13","v":0.0055},
  {"d":"2015-01-15","v":0.0054},{"d":"2015-01-17","v":0.0053},{"d":"2015-01-20","v":0.0053},{"d":"2015-01-22","v":0.0052}
 ]},
 "layer": [
  {"mark": {"type": "line", "opacity": 0},
   "encoding": {
    "x": {"field": "d", "type": "temporal", "scale": {"type": "utc", "nice": false, "domain": [{"year":2014,"month":5,"date":23,"hours":7,"utc":true},{"year":2015,"month":2,"date":1,"hours":14,"utc":true}]},
          "axis": {"orient": "top", "offset": -28, "ticks": true, "tickSize": -181, "tickColor": "#ebebeb", "labels": false, "title": null,
                   "values": [{"year":2014,"month":7,"date":1,"utc":true},{"year":2014,"month":8,"date":1,"utc":true},{"year":2014,"month":9,"date":1,"utc":true},{"year":2014,"month":10,"date":1,"utc":true},{"year":2014,"month":11,"date":1,"utc":true},{"year":2014,"month":12,"date":1,"utc":true},{"year":2015,"month":1,"date":1,"utc":true}]}},
    "y": {"field": "v", "type": "quantitative", "scale": {"domain": [0.004581, 0.006799], "nice": false, "zero": false},
          "axis": {"orient": "right", "offset": -8, "ticks": true, "tickSize": -337, "tickColor": "#e3e3e3", "labels": false, "title": null, "values": [0.005,0.0055,0.006,0.0065]}}
   }},
  {"mark": {"type": "line", "color": "#a5508a"},
   "encoding": {
    "x": {"field": "d", "type": "temporal",
          "axis": {"orient": "bottom", "offset": -34, "labelAlign": "left", "labelExpr": "utcFormat(datum.value, '%m') == '01' ? '’' + utcFormat(datum.value, '%y') : utcFormat(datum.value, '%b') + '.'",
                   "values": [{"year":2014,"month":7,"date":1,"utc":true},{"year":2014,"month":8,"date":1,"utc":true},{"year":2014,"month":9,"date":1,"utc":true},{"year":2014,"month":10,"date":1,"utc":true},{"year":2014,"month":11,"date":1,"utc":true},{"year":2014,"month":12,"date":1,"utc":true},{"year":2015,"month":1,"date":1,"utc":true}],
                   "title": "Quartz | qz.com", "titleX": 5, "titleY": 29, "titleAlign": "left", "titleBaseline": "alphabetic"}},
    "y": {"field": "v", "type": "quantitative",
          "axis": {"orient": "left", "offset": -5, "values": [0.005,0.0055,0.006,0.0065], "labelAlign": "left", "labelExpr": "datum.value > 0.00649 ? '$0.0065' : format(datum.value, '.4f')",
                   "title": "Data: FactSet", "titleAngle": 0, "titleX": 380, "titleY": 240, "titleAlign": "right", "titleBaseline": "alphabetic"}}
   }}
 ],
 "resolve": {"axis": {"x": "independent", "y": "independent"}}
},
{
 "width": 394, "height": 245,
 "title": {"text": "UK unemployment rate"},
 "data": {"values": [
  {"d":"2001-01-01","v":5.2},{"d":"2001-03-01","v":5.2},{"d":"2001-06-01","v":4.9},{"d":"2001-07-01","v":5.0},{"d":"2001-09-01","v":5.1},
  {"d":"2002-01-01","v":5.1},{"d":"2002-02-01","v":5.2},{"d":"2002-03-01","v":5.1},{"d":"2002-05-01","v":5.2},{"d":"2002-09-01","v":5.2},
  {"d":"2002-10-01","v":5.3},{"d":"2002-12-01","v":5.2},{"d":"2003-02-01","v":5.0},{"d":"2003-04-01","v":5.2},{"d":"2003-07-01","v":4.9},
  {"d":"2003-09-01","v":5.1},{"d":"2003-11-01","v":5.0},{"d":"2004-01-01","v":4.9},{"d":"2004-02-01","v":4.8},{"d":"2004-09-01","v":4.8},
  {"d":"2004-10-01","v":4.7},{"d":"2005-02-01","v":4.7},{"d":"2005-03-01","v":4.8},{"d":"2005-04-01","v":4.7},{"d":"2005-06-01","v":4.8},
  {"d":"2005-07-01","v":4.7},{"d":"2005-11-01","v":4.7},{"d":"2005-12-01","v":5.1},{"d":"2006-02-01","v":5.1},{"d":"2006-04-01","v":5.2},
  {"d":"2006-05-01","v":5.3},{"d":"2006-07-01","v":5.5},{"d":"2006-11-01","v":5.5},{"d":"2006-12-01","v":5.4},{"d":"2007-01-01","v":5.5},
  {"d":"2007-05-01","v":5.5},{"d":"2007-07-01","v":5.4},{"d":"2007-08-01","v":5.3},{"d":"2007-11-01","v":5.3},{"d":"2007-12-01","v":5.2},
  {"d":"2008-04-01","v":5.2},{"d":"2008-05-01","v":5.3},{"d":"2008-06-01","v":5.2},{"d":"2008-08-01","v":5.5},{"d":"2008-10-01","v":5.9},
  {"d":"2008-12-01","v":6.2},{"d":"2009-02-01","v":6.5},{"d":"2009-04-01","v":6.9},{"d":"2009-06-01","v":7.3},{"d":"2009-07-01","v":7.6},
  {"d":"2009-09-01","v":7.9},{"d":"2009-11-01","v":7.9},{"d":"2009-12-01","v":7.8},{"d":"2010-01-01","v":7.9},{"d":"2010-02-01","v":7.8},
  {"d":"2010-03-01","v":7.7},{"d":"2010-05-01","v":8.0},{"d":"2010-06-01","v":8.0},{"d":"2010-08-01","v":7.9},{"d":"2010-10-01","v":7.8},
  {"d":"2010-12-01","v":7.9},{"d":"2011-01-01","v":7.9},{"d":"2011-03-01","v":7.8},{"d":"2011-05-01","v":7.7},{"d":"2011-07-01","v":7.9},
  {"d":"2011-09-01","v":8.1},{"d":"2011-11-01","v":8.4},{"d":"2011-12-01","v":8.5},{"d":"2012-01-01","v":8.4},{"d":"2012-03-01","v":8.3},
  {"d":"2012-05-01","v":8.2},{"d":"2012-07-01","v":8.1},{"d":"2012-08-01","v":8.1},{"d":"2012-09-01","v":7.9},{"d":"2012-11-01","v":7.9},
  {"d":"2013-01-01","v":7.8},{"d":"2013-02-01","v":7.8},{"d":"2013-03-01","v":8.0},{"d":"2013-04-01","v":7.8},{"d":"2013-07-01","v":7.8},
  {"d":"2013-09-01","v":7.7},{"d":"2013-10-01","v":7.6},{"d":"2013-11-01","v":7.4},{"d":"2013-12-01","v":7.1},{"d":"2014-01-01","v":7.2},
  {"d":"2014-02-01","v":7.2},{"d":"2014-03-01","v":6.9},{"d":"2014-04-01","v":6.8},{"d":"2014-05-01","v":6.6},{"d":"2014-06-01","v":6.5},
  {"d":"2014-07-01","v":6.3},{"d":"2014-08-01","v":6.2},{"d":"2014-09-01","v":6.0},{"d":"2014-10-01","v":6.0},{"d":"2014-11-01","v":6.0},
  {"d":"2014-12-01","v":5.8}
 ]},
 "layer": [
  {"mark": {"type": "line", "opacity": 0},
   "encoding": {
    "x": {"field": "d", "type": "temporal", "scale": {"type": "utc", "nice": false, "domain": [{"year":1999,"month":5,"date":27,"utc":true},{"year":2015,"month":7,"date":28,"utc":true}]},
          "axis": {"orient": "top", "offset": -27, "ticks": true, "tickSize": -182, "tickColor": "#ebebeb", "labels": false, "title": null,
                   "values": [{"year":2001,"utc":true},{"year":2002,"utc":true},{"year":2003,"utc":true},{"year":2004,"utc":true},{"year":2005,"utc":true},{"year":2006,"utc":true},{"year":2007,"utc":true},{"year":2008,"utc":true},{"year":2009,"utc":true},{"year":2010,"utc":true},{"year":2011,"utc":true},{"year":2012,"utc":true},{"year":2013,"utc":true},{"year":2014,"utc":true}]}},
    "y": {"field": "v", "type": "quantitative", "scale": {"domain": [2.564, 10.048], "nice": false, "zero": false},
          "axis": {"orient": "right", "offset": -8, "ticks": true, "tickSize": -353, "tickColor": "#e3e3e3", "labels": false, "title": null, "values": [4,5,6,7,8,9]}}
   }},
  {"mark": {"type": "line", "color": "#a5508a"},
   "encoding": {
    "x": {"field": "d", "type": "temporal",
          "axis": {"orient": "bottom", "offset": -34, "labelAlign": "left", "labelExpr": "'’' + utcFormat(datum.value, '%y')",
                   "values": [{"year":2001,"utc":true},{"year":2002,"utc":true},{"year":2003,"utc":true},{"year":2004,"utc":true},{"year":2005,"utc":true},{"year":2006,"utc":true},{"year":2007,"utc":true},{"year":2008,"utc":true},{"year":2009,"utc":true},{"year":2010,"utc":true},{"year":2011,"utc":true},{"year":2012,"utc":true},{"year":2013,"utc":true},{"year":2014,"utc":true}],
                   "title": "Quartz | qz.com", "titleX": 5, "titleY": 29, "titleAlign": "left", "titleBaseline": "alphabetic"}},
    "y": {"field": "v", "type": "quantitative",
          "axis": {"orient": "left", "offset": -5, "values": [4,5,6,7,8,9], "labelAlign": "left", "labelExpr": "datum.value == 9 ? '9.0%' : format(datum.value, '.1f')",
                   "title": "Data: FactSet", "titleAngle": 0, "titleX": 380, "titleY": 240, "titleAlign": "right", "titleBaseline": "alphabetic"}}
   }}
 ],
 "resolve": {"axis": {"x": "independent", "y": "independent"}}
}
], "spacing": 2, "resolve": {"scale": {"color": "independent"}, "legend": {"color": "independent"}}}
]
}
